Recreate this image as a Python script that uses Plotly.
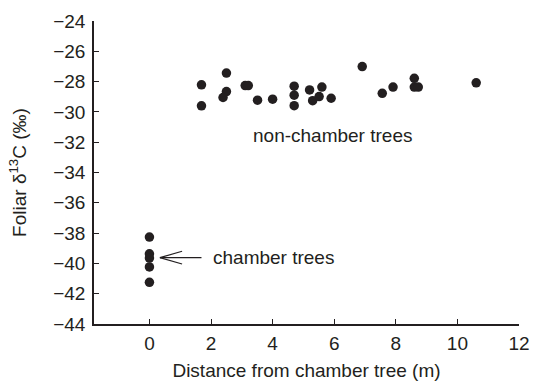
import plotly.graph_objects as go

# Non-chamber trees: distance (m) and foliar d13C (permil)
non_x = [1.69, 1.69, 2.50, 2.50, 2.39, 3.11, 3.21, 3.51, 4.00, 4.70, 4.70, 4.70,
         5.20, 5.30, 5.51, 5.60, 5.90, 6.91, 7.56, 7.91, 8.60, 8.60, 8.73, 10.61]
non_y = [-28.21, -29.60, -27.44, -28.66, -29.05, -28.26, -28.26, -29.23, -29.16,
         -28.30, -28.90, -29.59, -28.55, -29.26, -28.99, -28.36, -29.10, -27.01,
         -28.77, -28.36, -27.78, -28.36, -28.36, -28.08]

# Chamber trees
ch_x = [0, 0, 0, 0, 0]
ch_y = [-38.26, -39.37, -39.65, -40.23, -41.25]

FONT = "Liberation Sans, Arial, Helvetica, sans-serif"
INK = "#231f20"
FS = 19

fig = go.Figure()
fig.add_trace(go.Scatter(x=non_x, y=non_y, mode="markers",
                         marker=dict(size=9.5, color=INK), showlegend=False))
fig.add_trace(go.Scatter(x=ch_x, y=ch_y, mode="markers",
                         marker=dict(size=9.5, color=INK), showlegend=False))

# arrow pointing to chamber trees
tip_x, tip_y = 0.34, -39.62
tail_x = 1.69
head_dx, head_dy = 0.72, 0.42
fig.add_shape(type="line", x0=tip_x, y0=tip_y, x1=tail_x, y1=tip_y,
              line=dict(color=INK, width=1.2))
fig.add_shape(type="line", x0=tip_x, y0=tip_y, x1=tip_x + head_dx, y1=tip_y + head_dy,
              line=dict(color=INK, width=1.2))
fig.add_shape(type="line", x0=tip_x, y0=tip_y, x1=tip_x + head_dx, y1=tip_y - head_dy,
              line=dict(color=INK, width=1.2))

fig.add_annotation(x=4.02, y=tip_y, text="chamber trees", showarrow=False,
                   xanchor="center", yanchor="middle",
                   font=dict(family=FONT, size=FS, color=INK))
fig.add_annotation(x=5.93, y=-31.59, text="non-chamber trees", showarrow=False,
                   xanchor="center", yanchor="middle",
                   font=dict(family=FONT, size=FS, color=INK))

axis_common = dict(showline=True, linecolor=INK, linewidth=1.5, ticks="inside",
                   ticklen=5, tickwidth=1.2, tickcolor=INK, showgrid=False,
                   zeroline=False, tickfont=dict(family=FONT, size=FS, color=INK),
                   mirror=False)

fig.update_layout(
    width=541, height=389,
    margin=dict(l=94, r=11, t=17, b=62),
    paper_bgcolor="white", plot_bgcolor="white",
    xaxis=dict(range=[-1.8, 12], tick0=0, dtick=2, ticklabelstandoff=1,
               title=dict(text="Distance from chamber tree (m)",
                          font=dict(family=FONT, size=FS, color=INK), standoff=11),
               **axis_common),
    yaxis=dict(range=[-44, -24], tick0=-44, dtick=2, ticklabelstandoff=3,
               title=dict(text="Foliar δ<sup>13</sup>C (‰)",
                          font=dict(family=FONT, size=FS, color=INK), standoff=22),
               **axis_common),
)

fig.write_html("out.html")
